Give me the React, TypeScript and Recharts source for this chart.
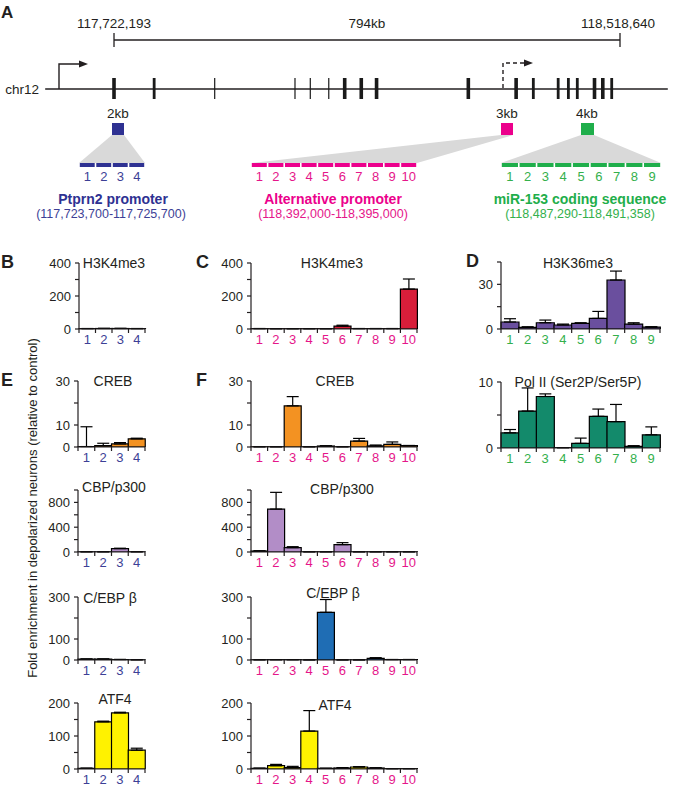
import React from 'react';
import { BarChart, Bar, XAxis, YAxis, ErrorBar, ComposedChart, Scatter, ReferenceLine } from 'recharts';

const FONT = 'Arial, "Liberation Sans", Helvetica, sans-serif';
const INK = '#231f20';
const NAVY = '#2e3192';
const PINK = '#ec008c';
const GREEN = '#1fae4b';
const NAVY_TXT = '#3d3f96';
const PINK_TXT = '#e5168a';
const GREEN_TXT = '#34b04c';

// amplicon names
const ampPromoter = ['1', '2', '3', '4'];
const ampAlt = ['1', '2', '3', '4', '5', '6', '7', '8', '9', '10'];
const ampMir = ['1', '2', '3', '4', '5', '6', '7', '8', '9'];

// gene model, kb from 117,722,193
const exonKb = [0, 63, 158, 284, 308, 337, 362, 388, 412, 556, 631, 658, 697, 713, 727, 754, 767, 781];
const exonKind = ['w', 'm', 'l', 'l', 'l', 'l', 'w', 'w', 'w', 'w', 'w', 'm', 'm', 'm', 'm', 'w', 'w', 'm'];

// B: Ptprn2 promoter H3K4me3
const bH3K4 = [2, 3, 3, 2];
const bH3K4Err = [1, 1, 1, 1];
// C: alternative promoter H3K4me3
const cH3K4 = [2, 1.5, 1.5, 1.5, 1.5, 18, 2, 2, 2, 242];
const cH3K4Err = [1, 0.5, 0.5, 0.5, 0.5, 5, 1, 1, 1, 61];
// D: miR-153 coding sequence
const dH3K36 = [4.7, 1.1, 4.2, 2.7, 3.8, 7.1, 32.9, 3.3, 1.3];
const dH3K36Err = [2.2, 0.4, 1.8, 0.6, 0.4, 4.7, 6.0, 0.9, 0.2];
const dPol2 = [2.3, 5.6, 7.8, 0.05, 0.7, 4.8, 4.0, 0.25, 2.0];
const dPol2Err = [0.5, 3.5, 0.4, 0, 0.8, 1.1, 2.6, 0.1, 1.2];
// E: Ptprn2 promoter TFs
const eCreb = [0.2, 0.6, 1.4, 3.7];
const eCrebErr = [9, 1.1, 0.6, 0.3];
const eCbp = [3, 3, 55, 3];
const eCbpErr = [1, 1, 6, 1];
const eCebpb = [4, 4, 2, 1];
const eCebpbErr = [1, 1, 1, 0];
const eAtf4 = [2, 143, 170, 57];
const eAtf4Err = [0.5, 2, 2, 6];
// F: alternative promoter TFs
const fCreb = [0.1, 0.1, 18.7, 0.1, 0.45, 0.1, 2.7, 0.5, 1.2, 0.6];
const fCrebErr = [0, 0, 4.2, 0, 0.1, 0, 1.2, 0.4, 1.1, 0.1];
const fCbp = [16, 692, 70, 3, 3, 119, 3, 3, 3, 3];
const fCbpErr = [3, 270, 16, 0, 0, 32, 0, 0, 0, 0];
const fCebpb = [1, 1.5, 1.5, 0.5, 227, 0.5, 0.5, 8, 2, 2];
const fCebpbErr = [0, 0, 0, 0, 61, 0, 0, 3, 0.5, 0.5];
const fAtf4 = [2, 10, 4, 115, 2, 3, 6, 3, 1, 1];
const fAtf4Err = [0.5, 4, 4, 62, 0, 1, 1, 0.5, 0, 0];

const W_AXIS = 40;
const M_TOP = 8;
const M_RIGHT = 6;
const H_AXIS = 22;

type PanelProps = {
  cats: string[];
  values: number[];
  errs: number[];
  color: string;
  labelColor: string;
  max: number;
  ticks: number[];
  shown: number[];
  x0: number;
  x1: number;
  yTop: number;
  yZero: number;
};

const Panel = ({ cats, values, errs, color, labelColor, max, ticks, shown, x0, x1, yTop, yZero }: PanelProps) => {
  const data = cats.map((c, i) => ({ name: c, v: values[i], e: [0, errs[i]] }));
  const n = cats.length;
  const bw = (x1 - x0) / n;
  const width = x1 - x0 + W_AXIS + M_RIGHT;
  const height = yZero - yTop + M_TOP + H_AXIS;

  const tick = (p: any) => {
    const { x, y, payload, index } = p;
    return (
      <g>
        <line x1={x - bw / 2} x2={x - bw / 2} y1={y} y2={y + 4} stroke={INK} strokeWidth={1.2} />
        {index === n - 1 && <line x1={x + bw / 2} x2={x + bw / 2} y1={y} y2={y + 4} stroke={INK} strokeWidth={1.2} />}
        <text x={x} y={y + 15} textAnchor="middle" fontSize={13} fill={labelColor} fontFamily={FONT}>
          {payload.value}
        </text>
      </g>
    );
  };

  return (
    <div style={{ position: 'absolute', left: x0 - W_AXIS, top: yTop - M_TOP }}>
      <BarChart
        width={width}
        height={height}
        data={data}
        margin={{ top: M_TOP, right: M_RIGHT, left: 0, bottom: 0 }}
        barCategoryGap={0}
        barGap={0}
      >
        <XAxis
          dataKey="name"
          height={H_AXIS}
          tickLine={false}
          tickSize={0}
          tickMargin={0}
          interval={0}
          tick={tick}
          axisLine={{ stroke: INK, strokeWidth: 1.2 }}
        />
        <YAxis
          width={W_AXIS}
          type="number"
          domain={[0, max]}
          ticks={ticks}
          interval={0}
          allowDataOverflow
          tickFormatter={(v: number) => (shown.includes(v) ? String(v) : '')}
          tickSize={4}
          tickMargin={4}
          tickLine={{ stroke: INK, strokeWidth: 1.2 }}
          axisLine={{ stroke: INK, strokeWidth: 1.2 }}
          tick={{ fontSize: 13, fill: INK, fontFamily: FONT }}
        />
        <Bar dataKey="v" fill={color} stroke="#000" strokeWidth={1.2} isAnimationActive={false}>
          <ErrorBar dataKey="e" width={6} stroke="#000" strokeWidth={1.2} direction="y" />
        </Bar>
      </BarChart>
    </div>
  );
};

// gene model drawn through a numeric kb scale
const GeneModel = () => {
  const data = exonKb.map((kb, i) => ({ kb, y: 0, kind: exonKind[i] }));
  const exon = (p: any) => {
    const w = p.payload.kind === 'w' ? 3.6 : p.payload.kind === 'm' ? 2.8 : 1.2;
    return <rect x={p.cx - w / 2} y={p.cy - 11} width={w} height={21} fill="#1a1a1a" />;
  };
  return (
    <div style={{ position: 'absolute', left: 0, top: 0 }}>
      <ComposedChart width={685} height={110} data={data} margin={{ top: 0, right: 0, left: 0, bottom: 0 }}>
        <XAxis dataKey="kb" type="number" domain={[-178.9, 896]} allowDataOverflow hide />
        <YAxis dataKey="y" type="number" domain={[-21, 89]} allowDataOverflow hide />
        <ReferenceLine segment={[{ x: 0, y: 49 }, { x: 794, y: 49 }]} stroke={INK} strokeWidth={1.3} />
        <ReferenceLine segment={[{ x: 0, y: 42 }, { x: 0, y: 56 }]} stroke={INK} strokeWidth={1.3} />
        <ReferenceLine segment={[{ x: 794, y: 42 }, { x: 794, y: 56 }]} stroke={INK} strokeWidth={1.3} />
        <ReferenceLine segment={[{ x: -108, y: 0 }, { x: 869, y: 0 }]} stroke={INK} strokeWidth={1.5} />
        <Scatter dataKey="y" shape={exon} isAnimationActive={false} />
      </ComposedChart>
    </div>
  );
};

const Segments = ({ x0, x1, labels, color, txt }: { x0: number; x1: number; labels: string[]; color: string; txt: string }) => {
  const w = (x1 - x0) / labels.length;
  return (
    <g>
      {labels.map((l, i) => (
        <g key={i}>
          <rect x={x0 + i * w + 0.8} y={163} width={w - 1.6} height={4} fill={color} />
          <text x={x0 + i * w + w / 2} y={181} textAnchor="middle" fontSize={13} fill={txt}>
            {l}
          </text>
        </g>
      ))}
    </g>
  );
};

const Overlay = () => {
  const title = (x: number, y: number, s: string) => (
    <text x={x} y={y + 5} textAnchor="middle" fontSize={14} fill={INK}>
      {s}
    </text>
  );
  const letter = (x: number, y: number, s: string, size = 18) => (
    <text x={x} y={y + size * 0.36} fontSize={size} fontWeight="bold" fill={INK}>
      {s}
    </text>
  );
  return (
    <svg width={685} height={788} style={{ position: 'absolute', left: 0, top: 0, pointerEvents: 'none' }} fontFamily={FONT}>
      {letter(1, 12, 'A', 17)}
      {letter(1, 262, 'B')}
      {letter(196, 262, 'C')}
      {letter(466, 261, 'D')}
      {letter(1, 380, 'E')}
      {letter(196, 380, 'F')}

      <text x={114} y={28} textAnchor="middle" fontSize={13.5} fill={INK}>117,722,193</text>
      <text x={367} y={28} textAnchor="middle" fontSize={13.5} fill={INK}>794kb</text>
      <text x={618} y={28} textAnchor="middle" fontSize={13.5} fill={INK}>118,518,640</text>
      <text x={39} y={94} textAnchor="end" fontSize={13.5} fill={INK}>chr12</text>

      <path d="M59 89 V64 H80" fill="none" stroke={INK} strokeWidth={1.4} />
      <polygon points="79,60.5 88,64 79,67.5" fill={INK} />
      <path d="M503 88 V63 H524" fill="none" stroke={INK} strokeWidth={1.4} strokeDasharray="4 3" />
      <polygon points="524,59.5 533,63 524,66.5" fill={INK} />

      <text x={118} y={118} textAnchor="middle" fontSize={13.5} fill={INK}>2kb</text>
      <text x={507} y={118} textAnchor="middle" fontSize={13.5} fill={INK}>3kb</text>
      <text x={587} y={118} textAnchor="middle" fontSize={13.5} fill={INK}>4kb</text>

      <polygon points="112,135 124,135 145,163 79,163" fill="#d9d9d9" />
      <polygon points="501,135 513,135 417,163 251,163" fill="#d9d9d9" />
      <polygon points="581,135 594,135 661,163 501,163" fill="#d9d9d9" />
      <rect x={112} y={123} width={12} height={12} fill={NAVY} />
      <rect x={501} y={123} width={12} height={12} fill={PINK} />
      <rect x={581} y={123} width={13} height={12} fill={GREEN} />

      <Segments x0={79} x1={145} labels={ampPromoter} color={NAVY} txt={NAVY_TXT} />
      <Segments x0={251} x1={417} labels={ampAlt} color={PINK} txt={PINK_TXT} />
      <Segments x0={501} x1={661} labels={ampMir} color={GREEN} txt={GREEN_TXT} />

      <text x={113} y={204} textAnchor="middle" fontSize={14} fontWeight="bold" fill={NAVY}>Ptprn2 promoter</text>
      <text x={111} y={218} textAnchor="middle" fontSize={12.5} fill={NAVY_TXT}>(117,723,700-117,725,700)</text>
      <text x={333} y={204} textAnchor="middle" fontSize={14} fontWeight="bold" fill={PINK}>Alternative promoter</text>
      <text x={333} y={218} textAnchor="middle" fontSize={12.5} fill={PINK_TXT}>(118,392,000-118,395,000)</text>
      <text x={580} y={204} textAnchor="middle" fontSize={14} fontWeight="bold" fill={GREEN}>miR-153 coding sequence</text>
      <text x={580} y={218} textAnchor="middle" fontSize={12.5} fill={GREEN_TXT}>(118,487,290-118,491,358)</text>

      {title(114, 263, 'H3K4me3')}
      {title(332, 263, 'H3K4me3')}
      {title(578, 263, 'H3K36me3')}
      {title(578, 382, 'Pol II (Ser2P/Ser5P)')}
      {title(113, 381, 'CREB')}
      {title(335, 381, 'CREB')}
      {title(114, 487, 'CBP/p300')}
      {title(342, 489, 'CBP/p300')}
      {title(110, 598, 'C/EBP β')}
      {title(333, 593, 'C/EBP β')}
      {title(115, 699, 'ATF4')}
      {title(335, 705, 'ATF4')}

      <text x={32} y={508} transform="rotate(-90 32 508)" textAnchor="middle" dominantBaseline="central" fontSize={13} fill={INK}>
        Fold enrichment in depolarized neurons (relative to control)
      </text>
    </svg>
  );
};

const App = () => {
  return (
    <div style={{ position: 'absolute', left: 0, top: 0, width: 685, height: 788, background: '#fff', fontFamily: FONT }}>
      <GeneModel />
      <Panel cats={ampPromoter} values={bH3K4} errs={bH3K4Err} color="#d81e3a" labelColor={NAVY_TXT}
        max={400} ticks={[0, 100, 200, 300, 400]} shown={[0, 200, 400]} x0={79} x1={145} yTop={263} yZero={329} />
      <Panel cats={ampAlt} values={cH3K4} errs={cH3K4Err} color="#d81e3a" labelColor={PINK_TXT}
        max={400} ticks={[0, 100, 200, 300, 400]} shown={[0, 200, 400]} x0={251} x1={417} yTop={263} yZero={329} />
      <Panel cats={ampMir} values={dH3K36} errs={dH3K36Err} color="#6a4f9e" labelColor={GREEN_TXT}
        max={45} ticks={[0, 15, 30, 45]} shown={[0, 30]} x0={501} x1={660} yTop={262} yZero={329} />
      <Panel cats={ampMir} values={dPol2} errs={dPol2Err} color="#138a6b" labelColor={GREEN_TXT}
        max={10} ticks={[0, 5, 10]} shown={[0, 10]} x0={501} x1={660} yTop={382} yZero={448} />

      <Panel cats={ampPromoter} values={eCreb} errs={eCrebErr} color="#f39222" labelColor={NAVY_TXT}
        max={30} ticks={[0, 10, 20, 30]} shown={[0, 10, 30]} x0={78} x1={145} yTop={381} yZero={447} />
      <Panel cats={ampAlt} values={fCreb} errs={fCrebErr} color="#f39222" labelColor={PINK_TXT}
        max={30} ticks={[0, 10, 20, 30]} shown={[0, 10, 30]} x0={251} x1={417} yTop={381} yZero={447} />

      <Panel cats={ampPromoter} values={eCbp} errs={eCbpErr} color="#b28dc7" labelColor={NAVY_TXT}
        max={1000} ticks={[0, 200, 400, 600, 800, 1000]} shown={[0, 400, 800]} x0={78} x1={145} yTop={490} yZero={552} />
      <Panel cats={ampAlt} values={fCbp} errs={fCbpErr} color="#b28dc7" labelColor={PINK_TXT}
        max={1000} ticks={[0, 200, 400, 600, 800, 1000]} shown={[0, 400, 800]} x0={251} x1={417} yTop={490} yZero={552} />

      <Panel cats={ampPromoter} values={eCebpb} errs={eCebpbErr} color="#1f6db4" labelColor={NAVY_TXT}
        max={300} ticks={[0, 100, 200, 300]} shown={[0, 100, 300]} x0={78} x1={145} yTop={597} yZero={660} />
      <Panel cats={ampAlt} values={fCebpb} errs={fCebpbErr} color="#1f6db4" labelColor={PINK_TXT}
        max={300} ticks={[0, 100, 200, 300]} shown={[0, 100, 300]} x0={251} x1={417} yTop={597} yZero={660} />

      <Panel cats={ampPromoter} values={eAtf4} errs={eAtf4Err} color="#fff200" labelColor={NAVY_TXT}
        max={200} ticks={[0, 50, 100, 150, 200]} shown={[0, 100, 200]} x0={78} x1={145} yTop={703} yZero={769} />
      <Panel cats={ampAlt} values={fAtf4} errs={fAtf4Err} color="#fff200" labelColor={PINK_TXT}
        max={200} ticks={[0, 50, 100, 150, 200]} shown={[0, 100, 200]} x0={251} x1={417} yTop={703} yZero={769} />

      <Overlay />
    </div>
  );
};

export default App;
